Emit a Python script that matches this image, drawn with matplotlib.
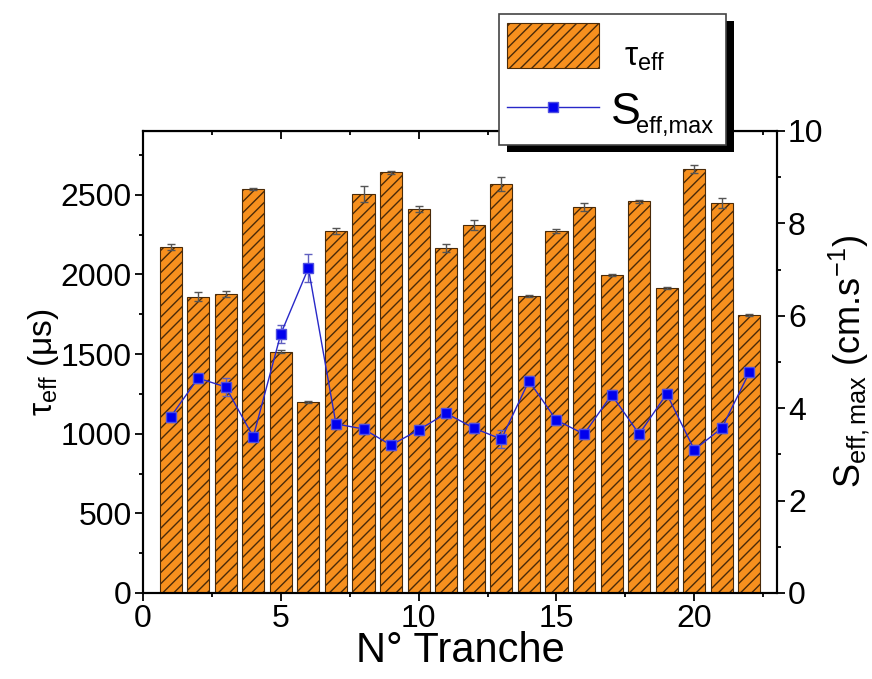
import numpy as np
import matplotlib
matplotlib.use('Agg')
import matplotlib.pyplot as plt
from matplotlib.ticker import MultipleLocator
from matplotlib.patches import Rectangle
from matplotlib.lines import Line2D

plt.rcParams['font.family'] = ['Liberation Sans', 'DejaVu Sans']
plt.rcParams['mathtext.fontset'] = 'custom'
plt.rcParams['mathtext.rm'] = 'Liberation Sans'
plt.rcParams['mathtext.it'] = 'Liberation Sans:italic'
plt.rcParams['hatch.linewidth'] = 1.0

# donnees
tranche = np.arange(1, 23)
tau_eff = [2170, 1860, 1875, 2535, 1515, 1198, 2272, 2503, 2642, 2410, 2165,
           2310, 2567, 1864, 2272, 2423, 1996, 2460, 1915, 2662, 2448, 1745]
tau_err = [20, 30, 20, 5, 10, 5, 20, 50, 10, 20, 25,
           30, 45, 5, 15, 25, 5, 10, 5, 25, 30, 5]
s_eff = [3.81, 4.65, 4.46, 3.38, 5.61, 7.03, 3.66, 3.55, 3.2, 3.53, 3.89,
         3.57, 3.33, 4.59, 3.74, 3.44, 4.29, 3.44, 4.31, 3.1, 3.57, 4.78]
s_err = [0.1, 0.1, 0.2, 0.1, 0.2, 0.3, 0.1, 0.1, 0.1, 0.1, 0.1,
         0.1, 0.2, 0.1, 0.1, 0.1, 0.1, 0.1, 0.1, 0.1, 0.1, 0.1]

bar_col = '#F7901E'
bar_edge = '#4a2a08'
line_col = '#2828C8'

W, H = 872, 679
fig = plt.figure(figsize=(W/100, H/100), dpi=100)
ax = fig.add_axes([143/W, 1-593/H, (777-143)/W, (593-131)/H])

ax.bar(tranche, tau_eff, width=0.8, color=bar_col, edgecolor=bar_edge,
       linewidth=0.8, hatch='///', yerr=tau_err,
       error_kw=dict(ecolor='#555555', elinewidth=1, capsize=3, capthick=1),
       zorder=2)
ax.set_xlim(0, 23)
ax.set_ylim(0, 2900)
ax.xaxis.set_major_locator(MultipleLocator(5))
ax.xaxis.set_minor_locator(MultipleLocator(2.5))
ax.yaxis.set_major_locator(MultipleLocator(500))
ax.yaxis.set_minor_locator(MultipleLocator(250))
ax.tick_params(which='both', direction='out', labelsize=23, width=1.3, pad=2)
ax.tick_params(which='major', length=6)
ax.tick_params(which='minor', length=3)
ax.set_xlabel('N° Tranche', fontsize=30, labelpad=-2)
ax.set_ylabel('τ$_{\\rm eff}$ (μs)', fontsize=24, labelpad=0)
for sp in ax.spines.values():
    sp.set_linewidth(1.5)

top = ax.secondary_xaxis('top')
top.xaxis.set_major_locator(MultipleLocator(5))
top.xaxis.set_minor_locator(MultipleLocator(2.5))
top.tick_params(which='both', direction='in', labeltop=False, width=1.3)
top.tick_params(which='major', length=6)
top.tick_params(which='minor', length=3)

ax2 = ax.twinx()
ax2.errorbar(tranche, s_eff, yerr=s_err, color=line_col, lw=1, marker='s',
             markersize=7.5, markerfacecolor='#0000EE', markeredgecolor='#5050E0',
             ecolor='#6060C0', elinewidth=1, capsize=3, zorder=3)
ax2.set_ylim(0, 10)
ax2.yaxis.set_major_locator(MultipleLocator(2))
ax2.yaxis.set_minor_locator(MultipleLocator(1))
ax2.tick_params(which='both', direction='out', labelsize=23, width=1.3, pad=2)
ax2.tick_params(which='major', length=6)
ax2.tick_params(which='minor', length=3)
ax2.set_ylabel('S$_{\\rm eff,max}$ (cm.s$^{-1}$)', fontsize=26, labelpad=2)
for sp in ax2.spines.values():
    sp.set_linewidth(1.5)

# legende dessinee a la main (cadre + ombre noire)
def fx(px):
    return px / W

def fy(py):
    return 1 - py / H

fig.patches.append(Rectangle((fx(507), fy(152)), fx(726-499), (145-14)/H,
                             transform=fig.transFigure, facecolor='black',
                             edgecolor='none', zorder=9))
fig.patches.append(Rectangle((fx(499), fy(145)), fx(726-499), (145-14)/H,
                             transform=fig.transFigure, facecolor='white',
                             edgecolor='#444444', lw=1.2, zorder=10))
fig.patches.append(Rectangle((fx(507), fy(68)), fx(92), 45/H,
                             transform=fig.transFigure, facecolor=bar_col,
                             edgecolor=bar_edge, lw=0.8, hatch='///', zorder=11))
fig.lines.append(Line2D([fx(507), fx(599)], [fy(107), fy(107)],
                        transform=fig.transFigure, color=line_col, lw=1,
                        zorder=11))
fig.lines.append(Line2D([fx(553)], [fy(107)], transform=fig.transFigure,
                        marker='s', markersize=7.5, markerfacecolor='#0000EE',
                        markeredgecolor='#5050E0', zorder=12))
fig.text(fx(624), fy(66), 'τ$_{\\rm eff}$', fontsize=24, ha='left',
         va='baseline', zorder=12)
fig.text(fx(611), fy(124), 'S', fontsize=32, ha='left', va='baseline',
         zorder=12)
fig.text(fx(636), fy(133), 'eff,max', fontsize=17, ha='left', va='baseline',
         zorder=12)

fig.savefig('out.png', dpi=100)
